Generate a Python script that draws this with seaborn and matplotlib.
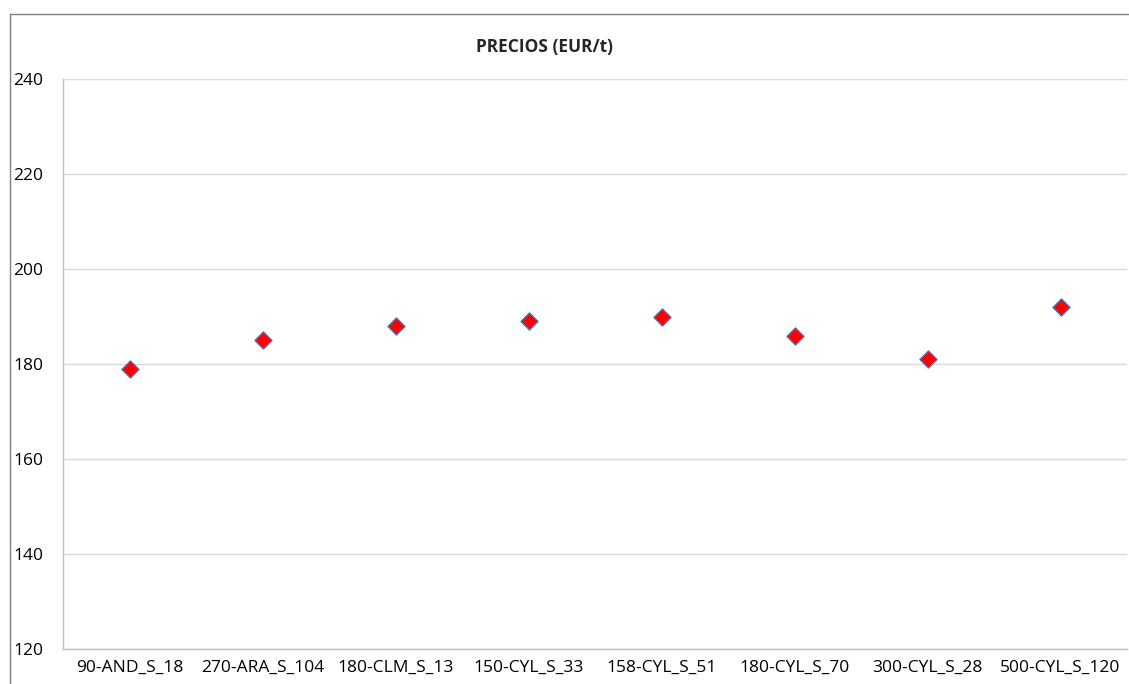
import matplotlib
matplotlib.use("Agg")
import matplotlib.pyplot as plt
import seaborn as sns
import pandas as pd
from matplotlib.lines import Line2D

categories = ["90-AND_S_18", "270-ARA_S_104", "180-CLM_S_13", "150-CYL_S_33",
              "158-CYL_S_51", "180-CYL_S_70", "300-CYL_S_28", "500-CYL_S_120"]
prices = [179, 185, 188, 189, 190, 186, 181, 192]
y_ticks = [120, 140, 160, 180, 200, 220, 240]
title = "PRECIOS (EUR/t)"

sns.set_theme(style="white")
plt.rcParams['font.family'] = ['Open Sans', 'DejaVu Sans']

df = pd.DataFrame({"cat": categories, "price": prices})

fig = plt.figure(figsize=(11.29, 6.84), dpi=100)
ax = fig.add_axes([63/1129, 1-649/684, (1127-63)/1129, (649-79)/684])

sns.scatterplot(data=df, x="cat", y="price", ax=ax, marker="D", s=75,
                color="#ff0000", edgecolor="#4f6fb0", linewidth=1.0, zorder=3)

ax.set_xlim(-0.5, len(categories)-0.5)
ax.set_ylim(120, 240)
ax.set_yticks(y_ticks)
ax.set_yticklabels([str(v) for v in y_ticks], fontsize=12.5, color="black")
ax.tick_params(axis='x', labelsize=12.5, colors="black", length=0, pad=8)
ax.tick_params(axis='y', length=0, pad=14)
ax.set_xlabel("")
ax.set_ylabel("")
ax.grid(axis='y', color="#d9d9d9", linewidth=1)
ax.set_axisbelow(True)
for s in ["top", "right"]:
    ax.spines[s].set_visible(False)
for s in ["left", "bottom"]:
    ax.spines[s].set_color("#bfbfbf")
    ax.spines[s].set_linewidth(1)

fig.text(544/1129, 1-47/684, title, ha="center", va="center",
         fontsize=12.5, fontweight="bold")

# chart border
fig.add_artist(Line2D([9.5/1129, 9.5/1129], [0, 1-13.5/684], transform=fig.transFigure,
                      color="#7f7f7f", linewidth=1))
fig.add_artist(Line2D([9.5/1129, 1], [1-13.5/684, 1-13.5/684], transform=fig.transFigure,
                      color="#7f7f7f", linewidth=1))

fig.savefig("out.png", dpi=100)
